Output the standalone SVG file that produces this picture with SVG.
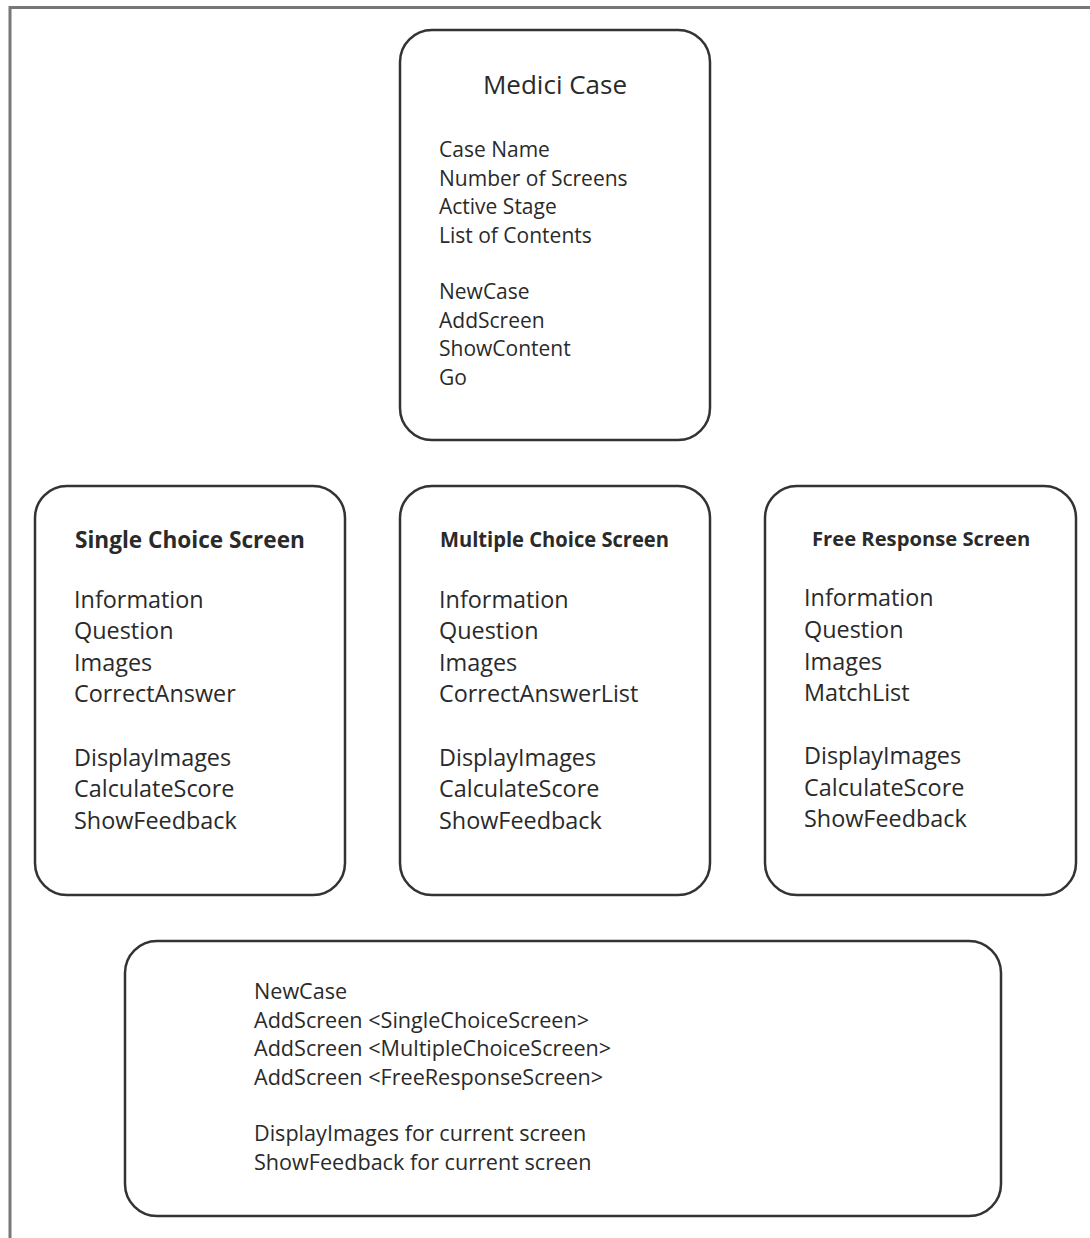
<svg xmlns="http://www.w3.org/2000/svg" width="1090" height="1238" viewBox="0 0 1090 1238">
<style>
.frame{fill:none;stroke:#777;stroke-width:3}
.box{fill:#fff;stroke:#333;stroke-width:2.5}
text{font-family:"Open Sans","Noto Sans",sans-serif;fill:#2a2a2a}
.t{font-size:21px}
.u{font-size:21.6px}
.s{font-size:23.4px}
.h{font-size:26px}
.b{font-weight:bold}
</style>
<rect width="1090" height="1238" fill="#fff"/>
<path class="frame" d="M10,1238 V7.5 H1090"/>
<g id="connectors"></g>
<g id="medici">
<rect class="box" x="400" y="30" width="310" height="410" rx="32"/>
<text class="h" x="555" y="94" text-anchor="middle">Medici Case</text>
<text class="t" x="439" y="157">Case Name</text>
<text class="t" x="439" y="186">Number of Screens</text>
<text class="t" x="439" y="214">Active Stage</text>
<text class="t" x="439" y="243">List of Contents</text>
<text class="t" x="439" y="299">NewCase</text>
<text class="t" x="439" y="328">AddScreen</text>
<text class="t" x="439" y="356">ShowContent</text>
<text class="t" x="439" y="385">Go</text>
</g>
<g id="single">
<rect class="box" x="35" y="486" width="310" height="409" rx="32"/>
<text class="b" x="75" y="548" font-size="22.6">Single Choice Screen</text>
<text class="s" x="74" y="608">Information</text>
<text class="s" x="74" y="639">Question</text>
<text class="s" x="74" y="671">Images</text>
<text class="s" x="74" y="702">CorrectAnswer</text>
<text class="s" x="74" y="766">DisplayImages</text>
<text class="s" x="74" y="797">CalculateScore</text>
<text class="s" x="74" y="829">ShowFeedback</text>
</g>
<g id="multiple">
<rect class="box" x="400" y="486" width="310" height="409" rx="32"/>
<text class="b" x="440" y="547" font-size="21" textLength="229" lengthAdjust="spacingAndGlyphs">Multiple Choice Screen</text>
<text class="s" x="439" y="608">Information</text>
<text class="s" x="439" y="639">Question</text>
<text class="s" x="439" y="671">Images</text>
<text class="s" x="439" y="702">CorrectAnswerList</text>
<text class="s" x="439" y="766">DisplayImages</text>
<text class="s" x="439" y="797">CalculateScore</text>
<text class="s" x="439" y="829">ShowFeedback</text>
</g>
<g id="free">
<rect class="box" x="765" y="486" width="311" height="409" rx="32"/>
<text class="b" x="812" y="546" font-size="20.2">Free Response Screen</text>
<text class="s" x="804" y="606">Information</text>
<text class="s" x="804" y="638">Question</text>
<text class="s" x="804" y="670">Images</text>
<text class="s" x="804" y="701">MatchList</text>
<text class="s" x="804" y="764">DisplayImages</text>
<text class="s" x="804" y="796">CalculateScore</text>
<text class="s" x="804" y="827">ShowFeedback</text>
</g>
<g id="script">
<rect class="box" x="125" y="941" width="876" height="275" rx="32"/>
<text class="u" x="254" y="999">NewCase</text>
<text class="u" x="254" y="1028">AddScreen &lt;SingleChoiceScreen&gt;</text>
<text class="u" x="254" y="1056">AddScreen &lt;MultipleChoiceScreen&gt;</text>
<text class="u" x="254" y="1085">AddScreen &lt;FreeResponseScreen&gt;</text>
<text class="u" x="254" y="1141">DisplayImages for current screen</text>
<text class="u" x="254" y="1170">ShowFeedback for current screen</text>
</g>
</svg>
